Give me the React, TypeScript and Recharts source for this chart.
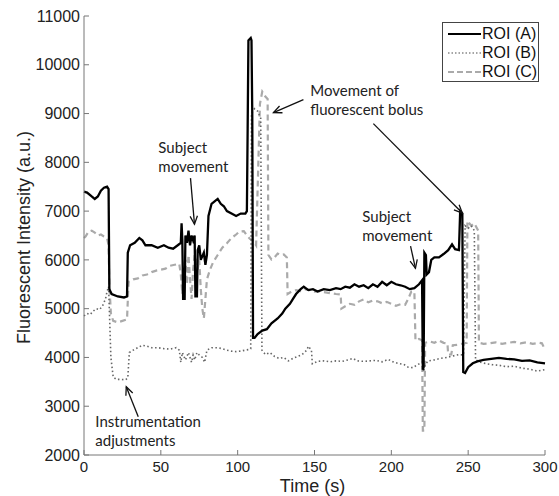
import { LineChart, Line, XAxis, YAxis, ReferenceLine, ReferenceDot } from "recharts";

// ROI (A) - solid black
const timeA = [
    0, 2, 5, 7, 9, 11, 13, 15, 16, 16.5, 18, 22, 26, 28, 28.5, 30, 33, 36, 38, 40, 44, 48, 52, 55, 58, 61, 63,
    63.5, 64, 64.5, 65.5, 66, 67, 68, 69, 70, 71, 72, 72.5, 73.5, 74, 75, 76, 78, 79, 80, 81, 83, 85, 87, 89,
    91, 93, 96, 99, 102, 105, 106, 106.5, 107, 108.5, 109, 109.5, 110, 111, 113, 116, 119, 122, 126, 129, 131,
    134, 136, 138, 141, 143, 146, 149, 152, 156, 160, 164, 167, 170, 173, 176, 179, 182, 185, 188, 191, 194,
    197, 200, 203, 206, 209, 212, 215, 218, 220, 220.5, 221, 221.5, 222.5, 223, 224.5, 226, 228, 231, 234, 237,
    239.5, 241.5, 244, 244.8, 246.2, 246.8, 248, 250, 253, 256, 260, 265, 270, 275, 280, 285, 290, 295, 300,
];
const roiA = [
    7400, 7380, 7300, 7250, 7300, 7420, 7480, 7500, 7450, 5400, 5300, 5250, 5230, 5250, 6150, 6300, 6350, 6450,
    6400, 6300, 6300, 6250, 6300, 6250, 6230, 6300, 6350, 6750, 6400, 5200, 5200, 6500, 6350, 6600, 6300, 6500,
    6400, 6500, 5250, 5250, 6200, 6300, 6000, 6150, 5900, 6100, 6900, 7150, 7200, 7250, 7150, 7100, 7000, 6950,
    6900, 6950, 6950, 7000, 8700, 10500, 10550, 10500, 9000, 4400, 4400, 4480, 4550, 4580, 4700, 4800, 4900,
    5000, 5100, 5200, 5300, 5400, 5450, 5380, 5400, 5350, 5400, 5380, 5420, 5400, 5450, 5430, 5500, 5450, 5480,
    5420, 5500, 5450, 5550, 5480, 5550, 5500, 5480, 5450, 5400, 5420, 5500, 5580, 3750, 3800, 6150, 6100, 5700,
    5750, 6000, 6050, 6050, 6120, 6200, 6320, 6220, 6200, 7000, 6950, 3700, 3680, 3800, 3880, 3920, 3950, 3970,
    3990, 3970, 3960, 3930, 3940, 3900, 3880,
];

// ROI (B) - dotted
const timeB = [
    0, 2, 4, 6, 8, 10, 12, 14, 15, 16, 17.5, 19, 21, 24, 27, 28.5, 29.5, 32, 35, 38, 41, 44, 48, 52, 56, 60, 62,
    63, 64, 66, 68, 70, 71, 72, 73.5, 75, 77, 78.5, 80, 83, 87, 90, 93, 96, 99, 102, 105, 107, 108.5, 109, 111,
    113, 115, 115.8, 118, 121, 124, 127, 130, 133, 136, 139, 142, 145, 146, 148, 148.6, 152, 156, 160, 164, 168,
    172, 175, 178, 182, 186, 190, 194, 198, 201, 204, 208, 211, 214, 217, 220, 221, 222, 224, 228, 232, 236, 240,
    244, 247, 248, 250, 252, 254, 254.8, 258, 262, 266, 270, 275, 280, 285, 290, 295, 300,
];
const roiB = [
    4850, 4900, 4880, 4950, 5000, 4980, 5050, 5200, 5350, 5450, 4000, 3600, 3550, 3550, 3540, 3580, 4100, 4150,
    4200, 4250, 4230, 4200, 4200, 4180, 4170, 4200, 4150, 3900, 4100, 3950, 4100, 3900, 4050, 3950, 4100, 4050,
    4000, 3900, 4150, 4200, 4200, 4180, 4150, 4130, 4120, 4130, 4150, 4160, 4180, 9000, 9100, 9050, 8900, 4150,
    4060, 4100, 4020, 3980, 4000, 3930, 3980, 4020, 4060, 4150, 4230, 4150, 3870, 3920, 3930, 3910, 3930, 3920,
    3950, 3980, 3930, 3920, 3930, 3940, 3910, 3960, 3910, 3880, 3860, 3800, 3790, 3850, 3900, 3700, 3850, 3930,
    3950, 3980, 4000, 4030, 4060, 4050, 6700, 6650, 6700, 6600, 3950, 3900, 3870, 3850, 3840, 3810, 3820, 3780,
    3760, 3720, 3750,
];

// ROI (C) - dashed light grey
const timeC = [
    0, 1, 3, 5, 7, 9, 11, 13, 15, 16, 16.5, 17.5, 19, 22, 25, 28, 29, 32, 35, 38, 41, 44, 47, 50, 53, 56, 59, 62,
    63, 64, 65, 66, 67, 68, 69, 70, 71, 72, 73, 74, 75, 76, 77, 78, 79, 80, 82, 84, 87, 90, 93, 96, 99, 101, 104,
    106, 108, 110, 112, 114.5, 116, 118, 119.5, 120, 122, 124, 126, 128, 130, 132, 132.5, 135, 138, 141, 144,
    147, 150, 153, 156, 160, 164, 167, 167.5, 170, 173, 176, 179, 182, 185, 188, 191, 194, 197, 200, 203, 206,
    209, 211, 213, 215, 215.7, 218, 220, 220.5, 221.5, 222, 225, 228, 231, 234, 236.5, 237, 239, 240, 243, 246,
    249, 249.5, 252, 254, 256.5, 257, 260, 264, 268, 272, 276, 280, 284, 288, 292, 296, 298, 300,
];
const roiC = [
    6450, 6480, 6580, 6600, 6560, 6500, 6520, 6480, 6450, 6300, 5500, 4900, 4750, 4720, 4750, 4780, 5550, 5600,
    5620, 5680, 5700, 5750, 5780, 5800, 5820, 5880, 5900, 5920, 5700, 5300, 5900, 6000, 5500, 6100, 5600, 5200,
    5800, 6100, 6000, 5800, 6000, 5400, 5000, 4800, 5200, 5600, 5800, 5950, 6100, 6250, 6340, 6450, 6520, 6580,
    6590, 6500, 6430, 6400, 6300, 9200, 9450, 9350, 9300, 6100, 6010, 6050, 6130, 6100, 6110, 6050, 5300, 5350,
    5380, 5360, 5400, 5380, 5350, 5360, 5340, 5320, 5300, 5290, 5000, 5050, 5100, 5080, 5150, 5190, 5130, 5170,
    5150, 5110, 5140, 5100, 5060, 5090, 5080, 5200, 5350, 5350, 4350, 4380, 4350, 2500, 2500, 4300, 4330, 4300,
    4350, 4300, 4290, 4060, 4060, 4250, 4260, 4280, 4300, 6800, 6700, 6750, 6600, 4300, 4280, 4290, 4310, 4280,
    4300, 4320, 4290, 4310, 4280, 4300, 4290, 4160,
];

const xTicks = [0, 50, 100, 150, 200, 250, 300];
const yTicks = [2000, 3000, 4000, 5000, 6000, 7000, 8000, 9000, 10000, 11000];

const noteLabels = [
    { t: 48.4, v: 8195, lines: ["Subject", "movement"] },
    { t: 147.3, v: 9367, lines: ["Movement of", "fluorescent bolus"] },
    { t: 181.1, v: 6774, lines: ["Subject", "movement"] },
    { t: 7.4, v: 2578, lines: ["Instrumentation", "adjustments"] },
];

const noteArrows = [
    { from: [69.3, 7676], to: [71.9, 6731] },
    { from: [142.8, 9286], to: [123.3, 9018] },
    { from: [188.3, 8794], to: [246.2, 6960] },
    { from: [212.5, 6281], to: [215.7, 5828] },
    { from: [35.3, 2784], to: [27.5, 3401] },
];

const toPoints = (ts: number[], vs: number[]) => ts.map((t, i) => ({ t, v: vs[i] }));
const dataA = toPoints(timeA, roiA);
const dataB = toPoints(timeB, roiB);
const dataC = toPoints(timeC, roiC);

const axisFont = "'Liberation Sans', Arial, sans-serif";
const noteFont = "Lato, 'Open Sans', sans-serif";

const Arrow = (p: any) => {
    const { x1, y1, x2, y2 } = p;
    const ang = Math.atan2(y2 - y1, x2 - x1);
    const len = 9;
    const spread = 0.42;
    const ax = x2 - len * Math.cos(ang - spread);
    const ay = y2 - len * Math.sin(ang - spread);
    const bx = x2 - len * Math.cos(ang + spread);
    const by = y2 - len * Math.sin(ang + spread);
    return (
        <g stroke="#111" strokeWidth={1.3} fill="none">
            <line x1={x1} y1={y1} x2={x2} y2={y2} />
            <polyline points={`${ax},${ay} ${x2},${y2} ${bx},${by}`} />
        </g>
    );
};

const NoteText = (lines: string[]) => (p: any) => (
    <text x={p.cx} y={p.cy} fill="#222" fontFamily={noteFont} fontSize={15}>
        {lines.map((l, i) => (
            <tspan key={i} x={p.cx} dy={i === 0 ? 0 : 19}>
                {l}
            </tspan>
        ))}
    </text>
);

const legendItems = [
    { name: "ROI (A)", color: "#000", width: 2.2, dash: undefined },
    { name: "ROI (B)", color: "#888", width: 1.6, dash: "1.5 2" },
    { name: "ROI (C)", color: "#aaa", width: 2, dash: "6 3" },
];

export default function App() {
    return (
        <div style={{ position: "absolute", left: 0, top: 0, width: 559, height: 496, background: "#fff" }}>
            <LineChart
                width={559}
                height={496}
                margin={{ top: 16, right: 14, left: 0, bottom: 0 }}
            >
                <XAxis
                    type="number"
                    dataKey="t"
                    domain={[0, 300]}
                    ticks={xTicks}
                    interval={0}
                    height={41}
                    stroke="#777"
                    tickSize={-5}
                    tickMargin={11}
                    tick={{ fill: "#222", fontSize: 15, fontFamily: axisFont }}
                    label={{
                        content: (p: any) => (
                            <text
                                x={p.viewBox.x + p.viewBox.width / 2 - 2}
                                y={p.viewBox.y + 37}
                                textAnchor="middle"
                                fill="#222"
                                fontSize={18}
                                fontFamily={axisFont}
                            >
                                Time (s)
                            </text>
                        ),
                    }}
                />
                <YAxis
                    type="number"
                    domain={[2000, 11000]}
                    ticks={yTicks}
                    interval={0}
                    width={84}
                    stroke="#777"
                    tickSize={-5}
                    tickMargin={9}
                    tick={{ fill: "#222", fontSize: 16, fontFamily: axisFont }}
                    label={{
                        content: (p: any) => {
                            const cy = p.viewBox.y + p.viewBox.height / 2 + 2;
                            return (
                                <text
                                    x={30}
                                    y={cy}
                                    transform={`rotate(-90, 30, ${cy})`}
                                    textAnchor="middle"
                                    fill="#222"
                                    fontSize={18}
                                    fontFamily={axisFont}
                                >
                                    Fluorescent Intensity (a.u.)
                                </text>
                            );
                        },
                    }}
                />
                <Line
                    data={dataC}
                    dataKey="v"
                    type="linear"
                    stroke="#aaa"
                    strokeWidth={2.2}
                    strokeDasharray="6 4"
                    dot={false}
                    activeDot={false}
                    isAnimationActive={false}
                />
                <Line
                    data={dataB}
                    dataKey="v"
                    type="linear"
                    stroke="#666"
                    strokeWidth={1.6}
                    strokeDasharray="1.5 2.5"
                    dot={false}
                    activeDot={false}
                    isAnimationActive={false}
                />
                <Line
                    data={dataA}
                    dataKey="v"
                    type="linear"
                    stroke="#000"
                    strokeWidth={2.3}
                    dot={false}
                    activeDot={false}
                    isAnimationActive={false}
                />
                {noteArrows.map((a, i) => (
                    <ReferenceLine
                        key={`arrow-${i}`}
                        segment={[
                            { x: a.from[0], y: a.from[1] },
                            { x: a.to[0], y: a.to[1] },
                        ]}
                        ifOverflow="visible"
                        shape={Arrow}
                    />
                ))}
                {noteLabels.map((n, i) => (
                    <ReferenceDot
                        key={`note-${i}`}
                        x={n.t}
                        y={n.v}
                        r={0}
                        ifOverflow="visible"
                        shape={NoteText(n.lines)}
                    />
                ))}
            </LineChart>
            <div
                style={{
                    position: "absolute",
                    left: 442,
                    top: 22,
                    width: 97,
                    height: 60,
                    border: "1px solid #444",
                    background: "#fff",
                    fontFamily: axisFont,
                    fontSize: 16,
                    color: "#111",
                    paddingTop: 1,
                    boxSizing: "border-box",
                }}
            >
                {legendItems.map((it) => (
                    <div key={it.name} style={{ display: "flex", alignItems: "center", height: 19.3 }}>
                        <svg width={39} height={10} style={{ flex: "none" }}>
                            <line
                                x1={5}
                                y1={5}
                                x2={38}
                                y2={5}
                                stroke={it.color}
                                strokeWidth={it.width}
                                strokeDasharray={it.dash}
                            />
                        </svg>
                        <span style={{ whiteSpace: "nowrap" }}>{it.name}</span>
                    </div>
                ))}
            </div>
        </div>
    );
}
